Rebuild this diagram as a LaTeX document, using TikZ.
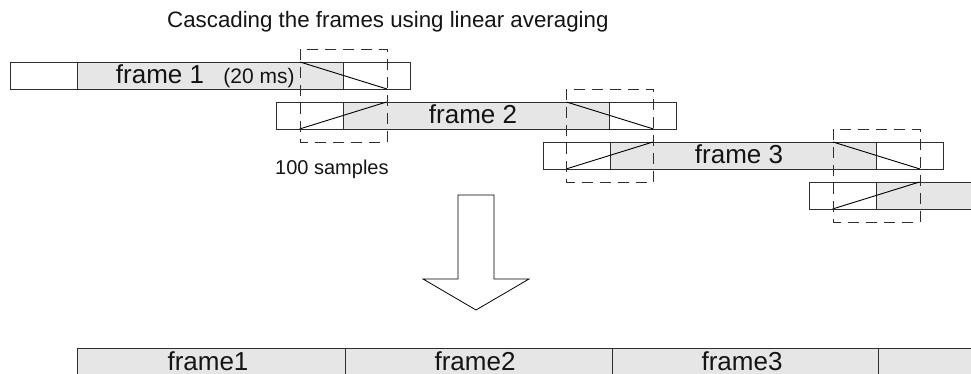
\documentclass[tikz,border=0pt]{standalone}
\usepackage{fontspec}
\setmainfont{Liberation Sans}
\definecolor{framefill}{RGB}{230,230,230}
\definecolor{edge}{RGB}{45,45,45}
\definecolor{ink}{RGB}{20,20,20}
\begin{document}
\begin{tikzpicture}[x=1pt,y=-1pt,
  seg/.style={draw=edge,line width=0.9pt},
  ramp/.style={draw=black,line width=0.9pt},
  window/.style={draw=edge,line width=0.9pt,dash pattern=on 11pt off 7pt},
  bigtxt/.style={inner sep=0pt,anchor=base,text=ink,font=\fontsize{26}{28}\selectfont},
  midtxt/.style={inner sep=0pt,anchor=base,text=ink,font=\fontsize{21}{24}\selectfont},
  arrowshape/.style={draw=black,line width=0.8pt,fill=white}]
\useasboundingbox (0,0) rectangle (971,374);
\clip (0,0) rectangle (971,374);

% title
\node[midtxt,anchor=base west,font=\fontsize{22.3}{25}\selectfont] (title) at (167,28) {Cascading the frames using linear averaging};

% overlapping frames, each 400 wide with a 266.5 step
\foreach \k in {0,1,2,3} {
  \begin{scope}[shift={(10+266.5*\k,62+40*\k)}]
    \fill[framefill] (67,0) rectangle (333,27);
    \draw[seg] (0,0) rectangle (400,27);
    \draw[seg] (67,0) -- (67,27) (333,0) -- (333,27);
    % fade-out ramp at the tail
    \draw[ramp] (290,0) -- (377,27);
    % fade-in ramp at the head
    \ifnum\k>0 \draw[ramp] (23,27) -- (110,0); \fi
  \end{scope}
}

% overlap windows
\foreach \k in {0,1,2} {
  \draw[window] (300+266.5*\k,49+40*\k) rectangle (387+266.5*\k,142+40*\k);
}

% frame labels
\node[bigtxt] (f1) at (160,84) {frame 1};
\node[midtxt] (dur) at (259,84) {(20 ms)};
\node[bigtxt] (f2) at (473,124) {frame 2};
\node[bigtxt] (f3) at (739,164) {frame 3};
\node[midtxt,anchor=base west,font=\fontsize{20}{23}\selectfont] (ns) at (275,175) {100 samples};

% block arrow
\coordinate (a1) at (458,195);
\coordinate (a2) at (494,195);
\coordinate (a3) at (494,279);
\coordinate (a4) at (529,279);
\coordinate (tip) at (476,310);
\coordinate (a6) at (423,279);
\coordinate (a7) at (458,279);
\draw[arrowshape] (a1) -- (a2) -- (a3) -- (a4) -- (tip) -- (a6) -- (a7) -- cycle;

% resulting frame sequence
\fill[framefill] (77,348) rectangle (1000,400);
\draw[seg] (77,400) -- (77,348) -- (1000,348);
\draw[seg] (345,348) -- (345,400) (612,348) -- (612,400) (878,348) -- (878,400);
\node[bigtxt] (o1) at (208,370) {frame1};
\node[bigtxt] (o2) at (475,370) {frame2};
\node[bigtxt] (o3) at (742,370) {frame3};
\end{tikzpicture}
\end{document}
